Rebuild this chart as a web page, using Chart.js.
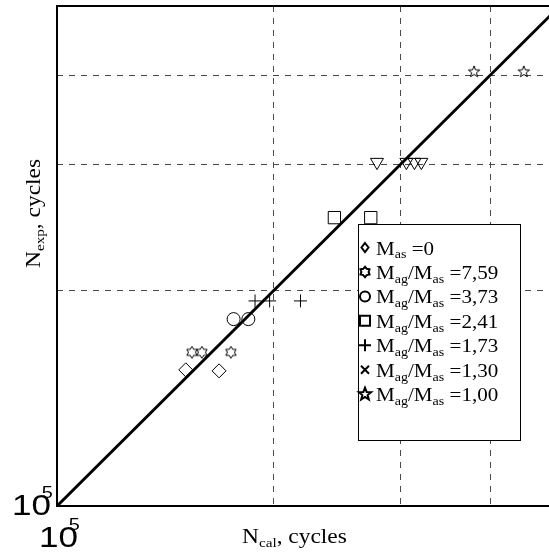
<!DOCTYPE html>
<html lang="en">
<head>
<meta charset="UTF-8">
<title>N exp vs N cal</title>
<style>
  body { margin: 0; background: #fff; }
  #wrap { width: 549px; height: 552px; position: relative; }
</style>
</head>
<body>
<div id="wrap"><canvas id="chart"></canvas></div>
<script src="https://cdn.jsdelivr.net/npm/chart.js"></script>
<script>
// values, in cycles
const diamondX = [151000, 168000];
const diamondY = [155000, 154500];
const hexX = [154000, 159000, 174500];
const hexY = [164000, 164000, 164000];
const circleX = [176000, 184500];
const circleY = [182500, 182500];
const squareX = [243000, 273000];
const squareY = [253000, 253000];
const plusX = [188500, 197500, 218000];
const plusY = [193500, 193500, 193500];
const triX = [278500, 306000, 314000, 321000];
const triY = [302500, 302500, 302500, 302500];
const starX = [380000, 445500];
const starY = [404500, 404500];

const gridValues = [200000, 300000, 400000];
const xMin = 100000, xMax = 483000;
const yMin = 100000, yMax = 500000;

// legend rows: [main, sub, main, sub, tail]
const legendRows = [
  ['M', 'as', '', '', ' =0'],
  ['M', 'ag', '/M', 'as', ' =7,59'],
  ['M', 'ag', '/M', 'as', ' =3,73'],
  ['M', 'ag', '/M', 'as', ' =2,41'],
  ['M', 'ag', '/M', 'as', ' =1,73'],
  ['M', 'ag', '/M', 'as', ' =1,30'],
  ['M', 'ag', '/M', 'as', ' =1,00']
];
const legendMarks = ['diamond', 'hexagram', 'circle', 'square', 'plus', 'cross', 'star'];

// the source picture is a little wider than tall, text is stretched to match
const STRETCH = 1.17;
const SERIF = '"Liberation Serif", "Times New Roman", serif';
const SANS = '"Liberation Sans", Arial, sans-serif';

function toPoints(xs, ys) {
  return xs.map((x, i) => ({ x: x, y: ys[i] }));
}

function starMarker(n, outer, inner, lw) {
  const size = Math.ceil(2 * (outer + lw)) + 2;
  const c = document.createElement('canvas');
  c.width = size;
  c.height = size;
  const g = c.getContext('2d');
  g.translate(size / 2, size / 2);
  g.beginPath();
  for (let i = 0; i < 2 * n; i++) {
    const r = i % 2 ? inner : outer;
    const a = -Math.PI / 2 + i * Math.PI / n;
    g.lineTo(r * Math.cos(a), r * Math.sin(a));
  }
  g.closePath();
  g.lineWidth = lw;
  g.strokeStyle = '#000';
  g.stroke();
  return c;
}

const hexagram = starMarker(6, 6, 6 / Math.sqrt(3), 1);
const pentagram = starMarker(5, 6, 6 * 0.42, 1);

function scatterSet(label, xs, ys, style, radius, extra) {
  return Object.assign({
    type: 'scatter',
    label: label,
    data: toPoints(xs, ys),
    pointStyle: style,
    pointRadius: radius,
    pointBorderColor: '#000',
    pointBackgroundColor: 'rgba(0,0,0,0)',
    pointBorderWidth: 1
  }, extra || {});
}

// text with subscripts; odd entries of row are subscripts
function drawSub(ctx, row, x, y, size, subSize) {
  ctx.save();
  ctx.translate(x, y);
  ctx.scale(STRETCH, 1);
  let cx = 0;
  row.forEach((txt, i) => {
    if (!txt) return;
    const isSub = i % 2 === 1;
    ctx.font = (isSub ? subSize : size) + 'px ' + SERIF;
    ctx.fillText(txt, cx, isSub ? size * 0.22 : 0);
    cx += ctx.measureText(txt).width;
  });
  ctx.restore();
}

function drawPower(ctx, x, y) {
  ctx.save();
  ctx.translate(x, y);
  ctx.scale(STRETCH, 1);
  ctx.textAlign = 'left';
  ctx.font = '30px ' + SANS;
  ctx.fillText('10', 0, 0);
  ctx.font = '17px ' + SANS;
  ctx.fillText('5', 25.5, -17);
  ctx.restore();
}

function drawLegendMark(ctx, kind, x, y) {
  ctx.save();
  ctx.strokeStyle = '#000';
  ctx.lineWidth = 2;
  ctx.beginPath();
  if (kind === 'diamond') {
    ctx.moveTo(x, y - 4.5); ctx.lineTo(x + 3.5, y); ctx.lineTo(x, y + 4.5); ctx.lineTo(x - 3.5, y); ctx.closePath();
  } else if (kind === 'hexagram') {
    for (let i = 0; i < 12; i++) {
      const r = i % 2 ? 3.6 : 5.2;
      const a = -Math.PI / 2 + i * Math.PI / 6;
      ctx.lineTo(x + r * Math.cos(a), y + r * Math.sin(a));
    }
    ctx.closePath();
  } else if (kind === 'circle') {
    ctx.arc(x, y, 5, 0, Math.PI * 2);
  } else if (kind === 'square') {
    ctx.rect(x - 5, y - 5, 10, 10);
  } else if (kind === 'plus') {
    ctx.moveTo(x - 6, y); ctx.lineTo(x + 6, y); ctx.moveTo(x, y - 6); ctx.lineTo(x, y + 6);
  } else if (kind === 'cross') {
    ctx.moveTo(x - 4, y - 4); ctx.lineTo(x + 4, y + 4); ctx.moveTo(x + 4, y - 4); ctx.lineTo(x - 4, y + 4);
  } else if (kind === 'star') {
    for (let i = 0; i < 10; i++) {
      const r = i % 2 ? 2.8 : 6.5;
      const a = -Math.PI / 2 + i * Math.PI / 5;
      ctx.lineTo(x + r * Math.cos(a), y + r * Math.sin(a));
    }
    ctx.closePath();
  }
  ctx.stroke();
  ctx.restore();
}

const decorations = {
  id: 'decorations',
  afterDatasetsDraw(chart) {
    const ctx = chart.ctx;
    const a = chart.chartArea;
    const xs = chart.scales.x, ys = chart.scales.y;
    ctx.save();
    // frame
    ctx.strokeStyle = '#000';
    ctx.lineWidth = 2;
    ctx.beginPath();
    ctx.moveTo(a.right + 2, a.top);
    ctx.lineTo(a.left, a.top);
    ctx.lineTo(a.left, a.bottom);
    ctx.lineTo(a.right + 2, a.bottom);
    ctx.stroke();

    // 10^5 tick labels at the origin
    ctx.fillStyle = '#000';
    ctx.textBaseline = 'alphabetic';
    const x0 = xs.getPixelForValue(xMin);
    const y0 = ys.getPixelForValue(yMin);
    drawPower(ctx, x0 - 45, y0 + 9);
    drawPower(ctx, x0 - 18, y0 + 41);

    // axis titles
    drawSub(ctx, ['N', 'cal', ', cycles'], 242, 543, 20, 13);
    ctx.save();
    ctx.translate(40, 268);
    ctx.rotate(-Math.PI / 2);
    drawSub(ctx, ['N', 'exp', ', cycles'], 0, 0, 20, 13);
    ctx.restore();

    // legend box
    const bx = 358.5, by = 224.5, bw = 162, bh = 216;
    ctx.fillStyle = '#fff';
    ctx.fillRect(bx, by, bw, bh);
    ctx.strokeStyle = '#000';
    ctx.lineWidth = 1;
    ctx.strokeRect(bx, by, bw, bh);
    ctx.fillStyle = '#000';
    legendRows.forEach((row, i) => {
      const base = 254.5 + i * 24.45;
      drawLegendMark(ctx, legendMarks[i], 365, base - 7);
      drawSub(ctx, row, 376, base, 18, 12);
    });
    ctx.restore();
  }
};

const gridScale = (minV, maxV) => ({
  type: 'logarithmic',
  min: minV,
  max: maxV,
  afterBuildTicks: s => { s.ticks = gridValues.map(v => ({ value: v })); },
  ticks: { display: false },
  grid: { color: '#4a4a4a', lineWidth: 1, drawTicks: false },
  border: { display: false, dash: [6, 6] }
});

new Chart(document.getElementById('chart'), {
  data: {
    datasets: [
      scatterSet('M_as=0', diamondX, diamondY, 'rectRot', 7),
      scatterSet('7,59', hexX, hexY, hexagram, 6),
      scatterSet('3,73', circleX, circleY, 'circle', 6.5),
      scatterSet('2,41', squareX, squareY, 'rect', 8.7),
      scatterSet('1,73', plusX, plusY, 'cross', 6.5),
      scatterSet('triangles', triX, triY, 'triangle', 7.5, { pointRotation: 180 }),
      scatterSet('1,00', starX, starY, pentagram, 6),
      {
        type: 'line',
        label: 'N_exp = N_cal',
        data: [{ x: xMin, y: yMin }, { x: 500000, y: 500000 }],
        borderColor: '#000',
        borderWidth: 3,
        pointRadius: 0
      }
    ]
  },
  options: {
    responsive: true,
    maintainAspectRatio: false,
    animation: false,
    layout: { autoPadding: false, padding: { left: 57, top: 6, right: 0, bottom: 46 } },
    plugins: { legend: { display: false }, tooltip: { enabled: false } },
    scales: {
      x: gridScale(xMin, xMax),
      y: gridScale(yMin, yMax)
    }
  },
  plugins: [decorations]
});
</script>
</body>
</html>
